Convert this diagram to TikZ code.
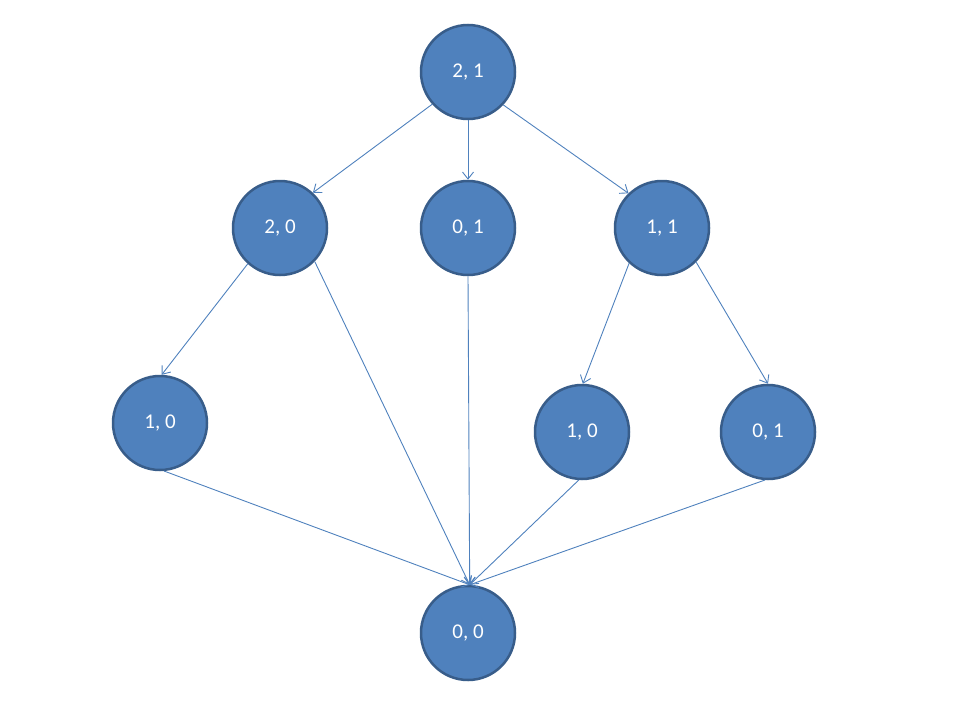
\documentclass[tikz,border=0pt]{standalone}
\usepackage{fontspec}
\setmainfont{Carlito}
\usetikzlibrary{arrows.meta}
\definecolor{nodefill}{HTML}{4F81BD}
\definecolor{nodeline}{HTML}{385D8A}
\begin{document}
\begin{tikzpicture}[x=1pt,y=-1pt,
  state/.style={circle,fill=nodefill,draw=nodeline,line width=2.5pt,minimum size=94pt,inner sep=0pt,text=white,font=\fontsize{21}{24}\selectfont},
  edge/.style={draw=nodefill,line width=0.9pt,-{Straight Barb[length=7pt,width=11pt]}}]
\useasboundingbox (0,0) rectangle (960,720);
\node[state] (a) at (468,72) {2, 1};
\node[state] (b) at (280,228) {2, 0};
\node[state] (c) at (468,228) {0, 1};
\node[state] (d) at (662,228) {1, 1};
\node[state] (e) at (160,423) {1, 0};
\node[state] (f) at (582,432) {1, 0};
\node[state] (g) at (768,432) {0, 1};
\node[state] (h) at (468,633) {0, 0};
\draw[edge] (a.222) -- (b.47);
\draw[edge] (a.south) -- (c.north);
\draw[edge] (a.317) -- (d.134);
\draw[edge] (b.228) -- (e.88);
\draw[edge] (b.316) -- (h.88);
\draw[edge] (c.south) -- (h.88);
\draw[edge] (d.227) -- (f.89);
\draw[edge] (d.315) -- (g.90);
\draw[edge] (e.275) -- (h.88);
\draw[edge] (f.266) -- (h.88);
\draw[edge] (g.266) -- (h.88);
\end{tikzpicture}
\end{document}
